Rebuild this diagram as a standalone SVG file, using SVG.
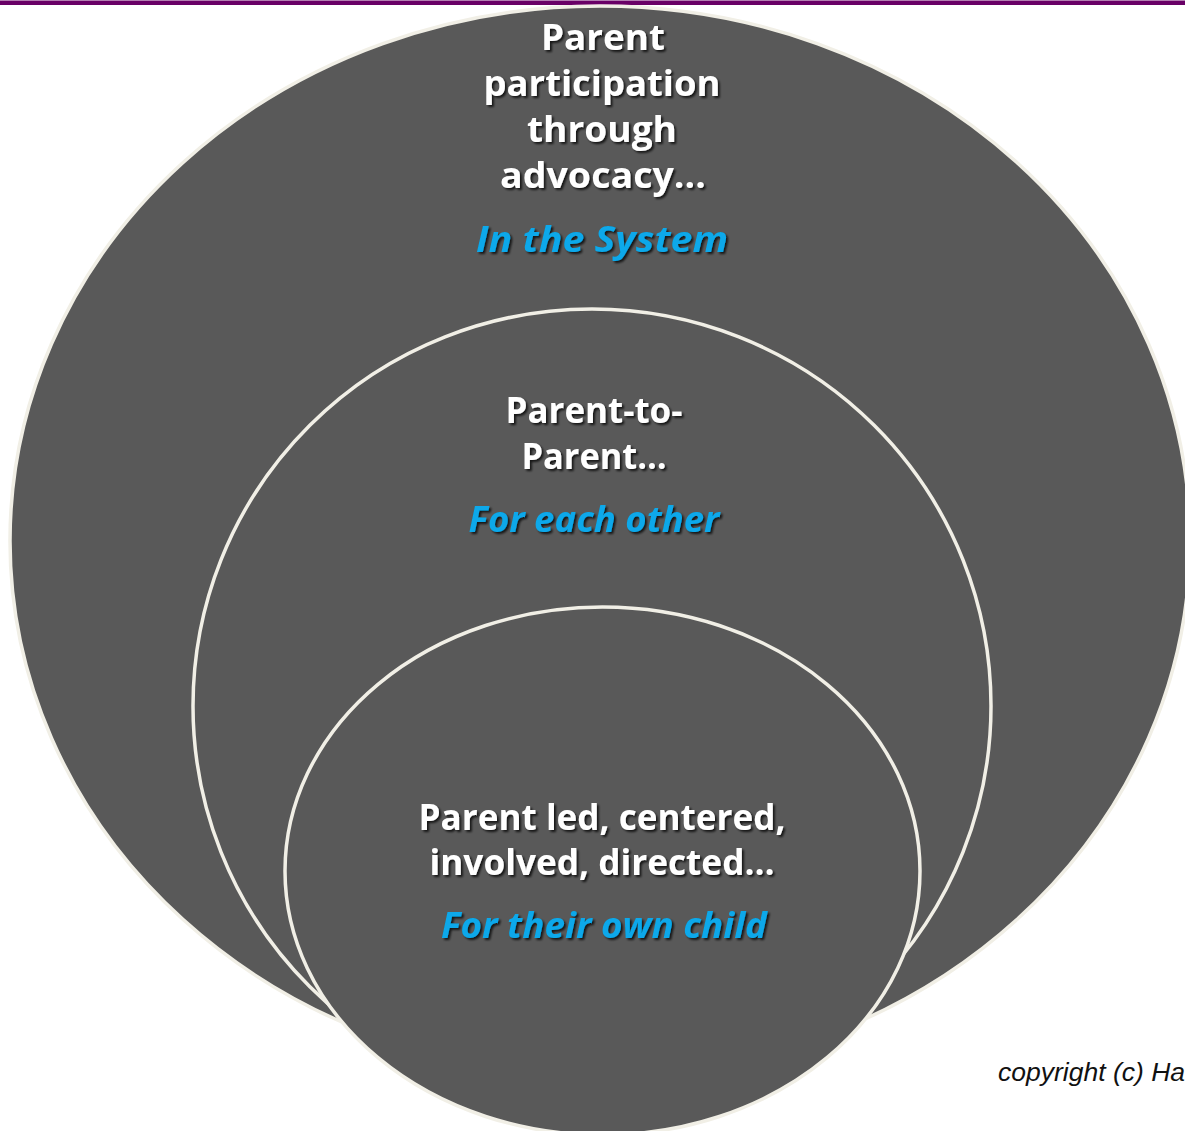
<svg xmlns="http://www.w3.org/2000/svg" width="1185" height="1131" viewBox="0 0 1185 1131">
  <defs>
    <filter id="txtShadow" x="-10%" y="-30%" width="120%" height="160%">
      <feDropShadow dx="2" dy="2" stdDeviation="1.2" flood-color="#000" flood-opacity="0.75"/>
    </filter>
    <style>
      .ring { fill: #595959; stroke: #F1EFE6; stroke-width: 3.5; }
      .head { font-family: "Open Sans", "Noto Sans", "Liberation Sans", sans-serif; font-weight: 700; font-size: 36px; fill: #FFFFFF; text-anchor: middle; filter: url(#txtShadow); }
      .sub  { font-family: "Open Sans", "Noto Sans", "Liberation Sans", sans-serif; font-weight: 700; font-style: italic; font-size: 36px; fill: #08A8EA; text-anchor: middle; filter: url(#txtShadow); }
      .note { font-family: "Liberation Sans", Arial, sans-serif; font-style: italic; font-size: 26.5px; fill: #111111; }
    </style>
  </defs>

  <rect x="0" y="0" width="1185" height="1131" fill="#FFFFFF"/>
  <!-- header rule -->
  <rect x="0" y="0.5" width="1185" height="4.5" fill="#690066"/>

  <g id="system">
    <ellipse class="ring" cx="600" cy="541" rx="590" ry="535"/>
  </g>

  <g id="each-other">
    <ellipse class="ring" cx="592" cy="706" rx="399" ry="397"/>
  </g>

  <g id="own-child">
    <ellipse class="ring" cx="602.5" cy="871" rx="317.5" ry="264"/>
  </g>

  <g id="system-label">
    <text class="head" x="603" y="50" textLength="124" lengthAdjust="spacingAndGlyphs">Parent</text>
    <text class="head" x="602" y="96" textLength="237" lengthAdjust="spacingAndGlyphs">participation</text>
    <text class="head" x="602" y="142" textLength="150" lengthAdjust="spacingAndGlyphs">through</text>
    <text class="head" x="603" y="188" textLength="206" lengthAdjust="spacingAndGlyphs">advocacy…</text>
    <text class="sub" x="602" y="252" textLength="252" lengthAdjust="spacingAndGlyphs">In the System</text>
  </g>

  <g id="each-other-label">
    <text class="head" x="594" y="423" textLength="177" lengthAdjust="spacingAndGlyphs">Parent-to-</text>
    <text class="head" x="594" y="469" textLength="145" lengthAdjust="spacingAndGlyphs">Parent…</text>
    <text class="sub" x="594" y="532" textLength="251" lengthAdjust="spacingAndGlyphs">For each other</text>
  </g>

  <g id="own-child-label">
    <text class="head" x="602" y="830" textLength="367" lengthAdjust="spacingAndGlyphs">Parent led, centered,</text>
    <text class="head" x="602" y="875" textLength="345" lengthAdjust="spacingAndGlyphs">involved, directed…</text>
    <text class="sub" x="604" y="938" textLength="326" lengthAdjust="spacingAndGlyphs">For their own child</text>
  </g>

  <text class="note" x="998" y="1081">copyright (c) Ha</text>
</svg>
